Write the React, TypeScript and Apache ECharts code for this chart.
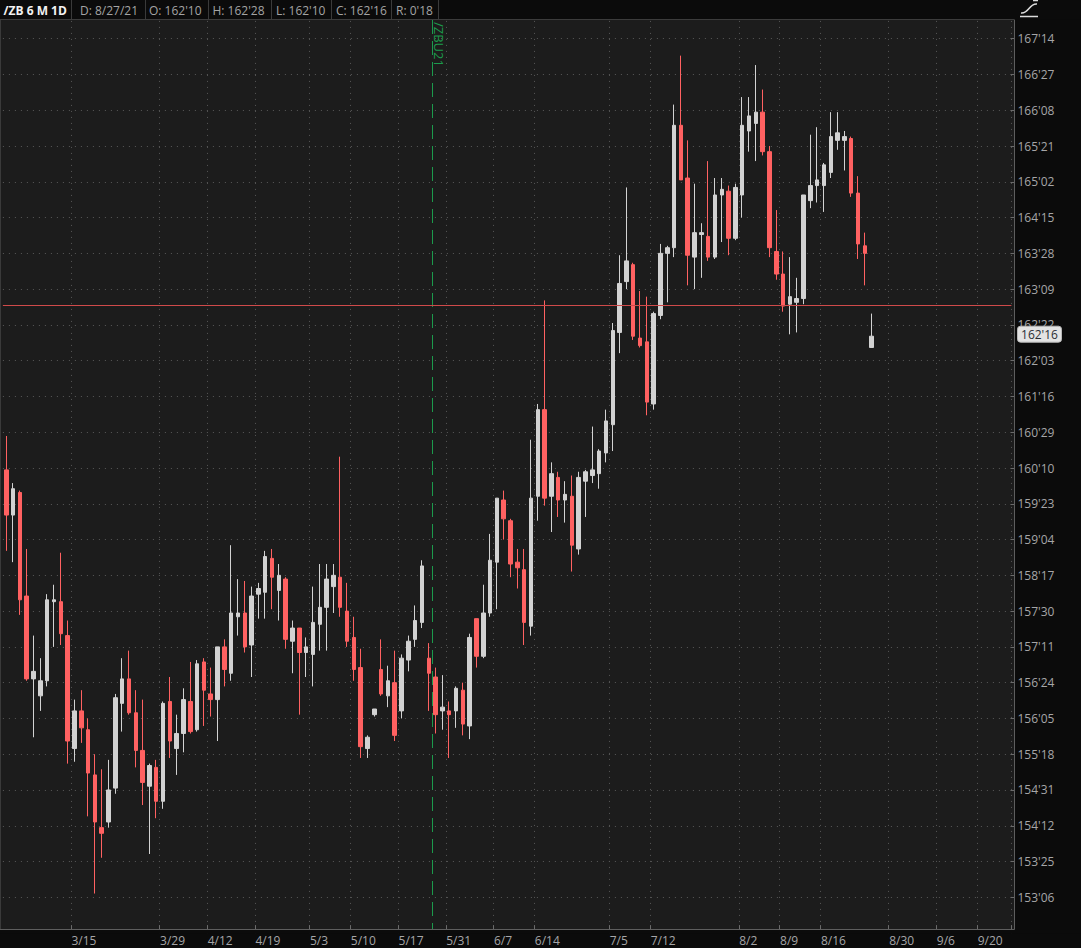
import React, { useEffect, useRef } from "react";
import * as echarts from "echarts";

// Daily /ZB candles, prices in 32nds of a point: [open, close, low, high]
const candles: number[][] = [
  [5129, 5105, 5086, 5147], [5105, 5119, 5080, 5122], [5117, 5060, 5052, 5118], [5062, 5018, 5017, 5087],
  [5018, 5022, 4987, 5041], [5009, 5017, 5001, 5029], [5017, 5060, 5014, 5063], [5059, 5060, 5035, 5068],
  [5059, 5042, 5036, 5085], [5041, 4985, 4973, 5049], [4981, 5001, 4974, 5007], [5001, 4992, 4984, 5012],
  [4991, 4968, 4945, 4997], [4967, 4942, 4904, 4978], [4939, 4936, 4923, 4970], [4942, 4959, 4939, 4975],
  [4960, 5008, 4957, 5010], [5005, 5018, 4990, 5029], [5018, 5000, 4999, 5033], [5000, 4980, 4971, 5012],
  [4980, 4963, 4951, 5007], [4961, 4972, 4925, 4973], [4971, 4953, 4944, 4975], [4953, 5005, 4949, 5006],
  [5006, 4985, 4976, 5019], [4981, 4989, 4967, 4999], [4989, 5007, 4979, 5013], [5006, 4990, 4989, 5027],
  [4991, 5026, 4990, 5028], [5027, 5012, 4993, 5029], [5010, 5007, 4998, 5024], [5007, 5035, 4985, 5035],
  [5035, 5023, 5014, 5039], [5021, 5053, 5017, 5089], [5051, 5053, 5041, 5071], [5053, 5035, 5032, 5070],
  [5036, 5062, 5019, 5067], [5063, 5066, 5050, 5069], [5064, 5083, 5050, 5086], [5082, 5072, 5055, 5087],
  [5065, 5073, 5049, 5079], [5071, 5039, 5034, 5072], [5038, 5045, 5021, 5049], [5045, 5032, 4999, 5045],
  [5032, 5035, 5019, 5040], [5031, 5048, 5014, 5067], [5047, 5056, 5033, 5079], [5056, 5071, 5033, 5079],
  [5067, 5073, 5053, 5079], [5072, 5056, 5051, 5136], [5054, 5038, 5035, 5069], [5040, 5023, 5017, 5051],
  [5024, 4982, 4976, 5034], [4981, 4987, 4976, 4988], [4999, 5002, 4998, 5002], [5023, 5010, 5009, 5039],
  [5009, 5017, 5003, 5025], [5016, 4988, 4985, 5033], [5001, 5029, 4997, 5031], [5028, 5038, 5022, 5041],
  [5039, 5049, 5035, 5057], [5048, 5078, 5045, 5081], [5029, 5021, 5001, 5037], [5019, 4999, 4989, 5024],
  [5001, 5003, 4991, 5020], [5001, 4999, 4976, 5006], [5001, 5013, 4992, 5014], [5012, 4994, 4988, 5016],
  [4993, 5040, 4986, 5042], [5050, 5030, 5024, 5050], [5030, 5053, 5029, 5068], [5053, 5081, 5051, 5095],
  [5080, 5114, 5055, 5114], [5113, 5103, 5092, 5118], [5102, 5079, 5072, 5103], [5080, 5077, 5066, 5087],
  [5076, 5048, 5036, 5087], [5046, 5114, 5041, 5145], [5115, 5161, 5102, 5164], [5161, 5114, 5110, 5219],
  [5115, 5127, 5096, 5133], [5125, 5113, 5104, 5128], [5113, 5116, 5101, 5123], [5115, 5089, 5075, 5126],
  [5087, 5125, 5084, 5128], [5123, 5128, 5104, 5129], [5126, 5129, 5122, 5152], [5127, 5139, 5119, 5140],
  [5138, 5155, 5133, 5161], [5153, 5203, 5139, 5207], [5202, 5228, 5191, 5243], [5229, 5240, 5225, 5279],
  [5238, 5200, 5198, 5239], [5199, 5195, 5194, 5224], [5197, 5165, 5158, 5221], [5164, 5212, 5161, 5213],
  [5211, 5244, 5209, 5249], [5244, 5247, 5218, 5248], [5247, 5312, 5242, 5323], [5312, 5283, 5283, 5349],
  [5284, 5243, 5227, 5304], [5242, 5255, 5225, 5281], [5254, 5255, 5231, 5260], [5253, 5242, 5240, 5293],
  [5242, 5275, 5241, 5284], [5275, 5278, 5250, 5284], [5277, 5252, 5243, 5280], [5252, 5279, 5251, 5281],
  [5275, 5312, 5263, 5327], [5309, 5317, 5298, 5327], [5313, 5319, 5293, 5344], [5319, 5298, 5296, 5331],
  [5298, 5247, 5242, 5301], [5245, 5233, 5230, 5267], [5233, 5216, 5213, 5245], [5217, 5221, 5201, 5242],
  [5218, 5220, 5202, 5231], [5220, 5275, 5217, 5275], [5272, 5280, 5268, 5307], [5280, 5283, 5271, 5311],
  [5280, 5291, 5266, 5292], [5287, 5306, 5284, 5319], [5304, 5308, 5299, 5319], [5304, 5306, 5288, 5309],
  [5305, 5276, 5274, 5306], [5276, 5249, 5241, 5285], [5248, 5244, 5227, 5255], [5194, 5200, 5194, 5212],
];

const slotCount = 148; // daily slots on the time axis (incl. empty future space)
const tickSlots = [10, 23, 30, 37, 45, 51, 58, 65, 72, 78, 89, 95, 108, 114, 120, 130, 137, 143];
const tickLabels = ["3/15", "3/29", "4/12", "4/19", "5/3", "5/10", "5/17", "5/31", "6/7", "6/14", "7/5", "7/12", "8/2", "8/9", "8/16", "8/30", "9/6", "9/20"];
const rollSlot = 63;
const rollLabel = "/ZBU21";
const refLevel = 5216.5;
const yMin = 4883;
const yMax = 5377;
const yStep = 19;
const symbolName = "/ZB 6 M 1D";
const dateLabel = "8/27/21";

const FONT = '"Open Sans", "Noto Sans", sans-serif';
const UP = "#d2d2d2";
const DOWN = "#ff6161";
const GRID_DOT = "#585858";
const AXIS_TXT = "#a6a6a8";
const PAGE_BG = "#0b0b0b";
const PLOT_BG = "#1c1c1c";
const GREEN = "#1c9a4c";

const fmt32 = (v: number) => {
  const w = Math.floor(v / 32);
  const f = Math.round(v - w * 32);
  return `${w}'${String(f).padStart(2, "0")}`;
};

export default function App() {
  const ref = useRef<HTMLDivElement>(null);
  useEffect(() => {
    const el = ref.current!;
    const chart = echarts.init(el, undefined, { renderer: "svg" });
    const categories = Array.from({ length: slotCount }, (_, i) => `s${i}`);
    const tickSet = new Set(tickSlots);
    const tickMap = new Map(tickSlots.map((s, i) => [s, tickLabels[i]] as [number, string]));
    const isTick = (i: number) => tickSet.has(i);

    chart.setOption({
      animation: false,
      backgroundColor: "transparent",
      textStyle: { fontFamily: FONT },
      grid: { left: 2.9, right: 69.63, top: 2.92, bottom: 14.92, containLabel: false },
      xAxis: {
        type: "category",
        data: categories,
        boundaryGap: true,
        offset: -4,
        axisLine: { show: false },
        axisTick: { show: true, inside: true, length: 4, interval: isTick, lineStyle: { color: "#6a6a6a" } },
        axisLabel: {
          show: true,
          interval: isTick,
          formatter: (_v: string, i: number) => tickMap.get(i) ?? "",
          align: "left",
          padding: [0, 0, 0, -3],
          margin: 5,
          color: AXIS_TXT,
          fontSize: 12,
          fontFamily: FONT,
        },
        splitLine: { show: true, interval: isTick, lineStyle: { color: GRID_DOT, type: [1, 5], width: 1 } },
      },
      yAxis: {
        type: "value",
        position: "right",
        min: yMin,
        max: yMax,
        interval: yStep,
        offset: 3.1,
        axisLine: { show: false },
        axisTick: { show: true, inside: true, length: 4, lineStyle: { color: "#6a6a6a" } },
        axisLabel: {
          margin: 3,
          color: AXIS_TXT,
          fontSize: 12,
          fontFamily: FONT,
          formatter: fmt32,
          showMinLabel: false,
          showMaxLabel: false,
        },
        splitLine: {
          show: true,
          showMinLine: false,
          showMaxLine: false,
          lineStyle: { color: GRID_DOT, type: [1, 5], width: 1 },
        },
      },
      series: [
        {
          type: "candlestick",
          data: candles,
          barWidth: 4,
          itemStyle: { color: UP, color0: DOWN, borderColor: UP, borderColor0: DOWN, borderWidth: 1 },
          markLine: {
            silent: true,
            symbol: ["none", "none"],
            label: { show: false },
            lineStyle: { color: "#cf4a4a", width: 1, type: "solid" },
            data: [{ yAxis: refLevel }],
          },
        },
      ],
    });

    const px = (i: number) => chart.convertToPixel({ xAxisIndex: 0 }, i) as number;
    const band = px(1) - px(0);
    const gx = Math.round(px(rollSlot) - band / 2) + 0.5;
    const last = candles[candles.length - 1];
    const lastY = chart.convertToPixel({ yAxisIndex: 0 }, last[1]) as number;

    const headerTexts = [
      { x: 3.6, text: symbolName, bold: true },
      { x: 80, text: `D: ${dateLabel}` },
      { x: 149, text: `O: ${fmt32(last[0])}` },
      { x: 212.5, text: `H: ${fmt32(last[3])}` },
      { x: 276, text: `L: ${fmt32(last[2])}` },
      { x: 336, text: `C: ${fmt32(last[1])}` },
      { x: 396, text: `R: ${fmt32(last[3] - last[2])}` },
    ];
    const seps = [71.5, 145.5, 208.5, 271.5, 331.5, 391.5, 438.5];

    const line = (x1: number, y1: number, x2: number, y2: number, stroke: string, z: number, extra: any = {}) => ({
      type: "line",
      silent: true,
      z,
      shape: { x1, y1, x2, y2 },
      style: { stroke, lineWidth: 1, ...extra },
    });

    const elements: any[] = [
      { type: "rect", silent: true, z: -100, shape: { x: 0, y: 19.5, width: 1014.5, height: 910 }, style: { fill: PLOT_BG } },
      { type: "rect", silent: true, z: 5, shape: { x: 0, y: 930, width: 1081, height: 3.6 }, style: { fill: PAGE_BG } },
      line(0.5, 19.5, 0.5, 929.5, "#3a3a3a", 6),
      line(1014.5, 19.5, 1014.5, 929.5, "#5e5e5e", 6),
      line(0, 929.5, 1014.5, 929.5, "#5e5e5e", 6),
      line(gx, 20, gx, 929, GREEN, 3, { lineDash: [14, 7] }),
      {
        type: "text",
        silent: true,
        z: 4,
        x: gx + 6.5,
        y: 22,
        rotation: -Math.PI / 2,
        style: {
          text: rollLabel,
          fill: GREEN,
          font: `13px ${FONT}`,
          textAlign: "left",
          align: "left",
          textVerticalAlign: "middle",
          verticalAlign: "middle",
        },
      },
      { type: "rect", silent: true, z: 50, shape: { x: 0, y: 0, width: 1081, height: 19.5 }, style: { fill: PAGE_BG } },
      line(0, 19.5, 1014.5, 19.5, "#3c3c3c", 51),
      ...seps.map((s) => line(s, 0, s, 19, "#3a3a3a", 51)),
      ...headerTexts.map((h) => ({
        type: "text",
        silent: true,
        z: 52,
        x: h.x,
        y: 10,
        style: {
          text: h.text,
          fill: h.bold ? "#f2f2f2" : "#a4a4a4",
          font: `${h.bold ? "bold " : ""}12px ${FONT}`,
          textAlign: "left",
          align: "left",
          textVerticalAlign: "middle",
          verticalAlign: "middle",
        },
      })),
      // chart-style icon at top right
      {
        type: "bezierCurve",
        silent: true,
        z: 52,
        shape: { x1: 1021, y1: 13, x2: 1037, y2: 4, cpx1: 1029, cpy1: 14, cpx2: 1029, cpy2: 3 },
        style: { stroke: "#dcdcdc", lineWidth: 1.5, fill: "none" },
      },
      line(1020, 16.5, 1038, 16.5, "#dcdcdc", 52, { lineWidth: 1.5 }),
      line(1033, 0.5, 1038, 0.5, "#dcdcdc", 52, { lineWidth: 1.5 }),
      // last price tag
      {
        type: "rect",
        silent: true,
        z: 60,
        shape: { x: 1017.5, y: lastY - 10, width: 44, height: 16, r: 3 },
        style: { fill: "#e3e3e3", stroke: "#b8b8b8", lineWidth: 1 },
      },
      {
        type: "text",
        silent: true,
        z: 61,
        x: 1039.5,
        y: lastY - 2,
        style: {
          text: fmt32(last[1]),
          fill: "#2a2e35",
          font: `12px ${FONT}`,
          textAlign: "center",
          align: "center",
          textVerticalAlign: "middle",
          verticalAlign: "middle",
        },
      },
    ];

    chart.setOption({ graphic: { elements } });

    return () => {
      chart.dispose();
    };
  }, []);

  return (
    <div
      ref={ref}
      style={{ position: "fixed", left: 0, top: 0, width: 1081, height: 948, background: PAGE_BG }}
    />
  );
}
